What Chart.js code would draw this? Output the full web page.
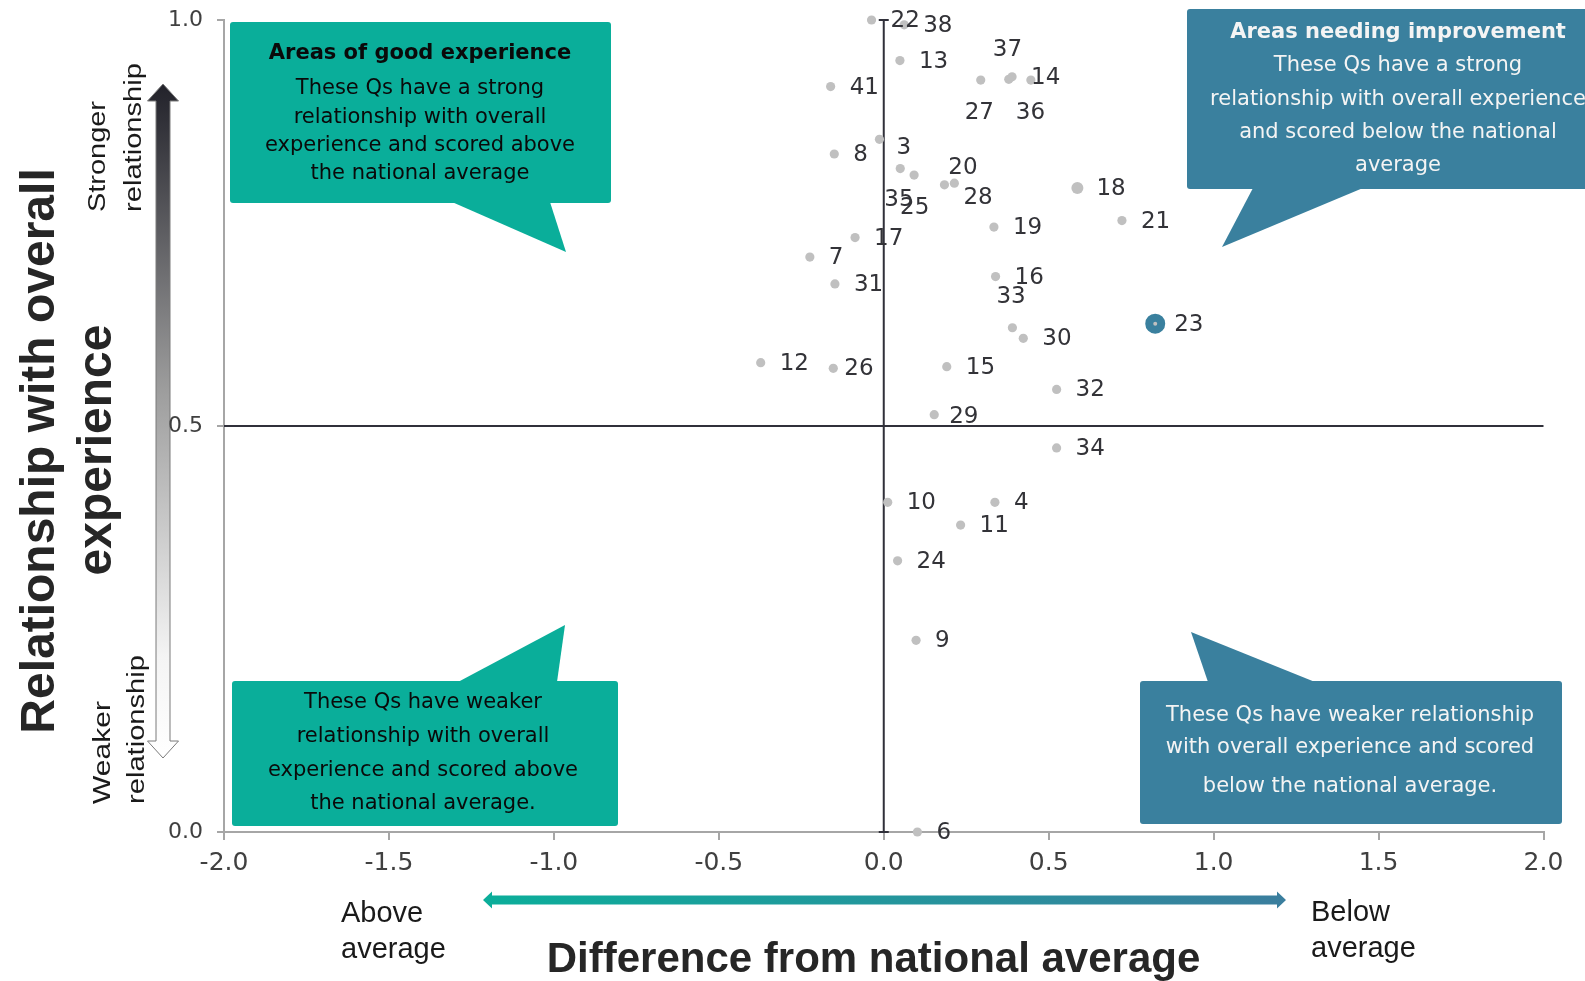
<!DOCTYPE html>
<html>
<head>
<meta charset="utf-8">
<title>Key drivers of overall experience</title>
<script src="https://cdn.jsdelivr.net/npm/chart.js@4.4.1/dist/chart.umd.min.js"></script>
<style>
  html, body { margin: 0; padding: 0; background: #ffffff; }
  #wrap { width: 1585px; height: 981px; position: relative; overflow: hidden; }
</style>
</head>
<body>
<div id="wrap"><canvas id="chart" width="1585" height="981"></canvas></div>
<script>
// Question numbers, difference from the national average (x) and
// strength of relationship with overall experience (y)
const questionIds = [3, 4, 6, 7, 8, 9, 10, 11, 12, 13, 14, 15, 16, 17, 18, 19, 20, 21,
                     22, 23, 24, 25, 26, 27, 28, 29, 30, 31, 32, 33, 34, 35, 36, 37, 38, 41];
const diffFromNational = [-0.013, 0.337, 0.102, -0.224, -0.150, 0.098, 0.012, 0.233, -0.373,
                          0.049, 0.389, 0.191, 0.339, -0.087, 0.587, 0.334, 0.214, 0.722,
                          -0.037, 0.823, 0.042, 0.092, -0.153, 0.294, 0.184, 0.153, 0.423,
                          -0.148, 0.524, 0.390, 0.524, 0.050, 0.446, 0.379, 0.062, -0.161];
const relationship = [0.853, 0.406, 0.000, 0.708, 0.835, 0.236, 0.406, 0.378, 0.578,
                      0.950, 0.930, 0.573, 0.684, 0.732, 0.793, 0.745, 0.799, 0.753,
                      1.000, 0.626, 0.334, 0.809, 0.571, 0.926, 0.797, 0.514, 0.608,
                      0.675, 0.545, 0.621, 0.473, 0.817, 0.926, 0.927, 0.994, 0.918];

const xTickValues = [-2.0, -1.5, -1.0, -0.5, 0.0, 0.5, 1.0, 1.5, 2.0];
const yTickValues = [0.0, 0.5, 1.0];

const xTitle = 'Difference from national average';
const yTitle = ['Relationship with overall', 'experience'];
const leftEnd = ['Above', 'average'];
const rightEnd = ['Below', 'average'];
const topEnd = ['Stronger', 'relationship'];
const bottomEnd = ['Weaker', 'relationship'];

const goodTitle = 'Areas of good experience';
const goodText = ['These Qs have a strong', 'relationship with overall',
                  'experience and scored above', 'the national average'];
const improveTitle = 'Areas needing improvement';
const improveText = ['These Qs have a strong', 'relationship with overall experience',
                     'and scored below the national', 'average'];
const weakAboveText = ['These Qs have weaker', 'relationship with overall',
                       'experience and scored above', 'the national average.'];
const weakBelowText = ['These Qs have weaker relationship', 'with overall experience and scored',
                       'below the national average.'];

// ---- styling ----
const TEAL = '#0AAE9A';
const BLUE = '#3A809E';
const DOT = '#C0C0C0';
const highlighted = [23];
const enlarged = [18];

// label placement: [dx, dy] from the point centre to the label's left/middle
const labelDefault = [19, 1];
const labelNudge = {3: [17, 9], 20: [-6, -15], 25: [-14, 33], 26: [11, 1], 27: [-16, 33],
                    28: [19, 13], 29: [15, 2], 33: [-16, -31], 35: [-16, 31], 36: [-15, 33],
                    37: [-16, -29]};

function drawText(ctx, text, x, y, o) {
  ctx.save();
  ctx.font = o.font;
  ctx.fillStyle = o.color;
  ctx.textAlign = o.align || 'left';
  ctx.textBaseline = 'middle';
  ctx.translate(x, y);
  if (o.rotate) ctx.rotate(o.rotate);
  if (o.width) {
    const w = ctx.measureText(text).width;
    ctx.scale(o.width / w, 1);
  }
  ctx.fillText(text, 0, 0);
  ctx.restore();
}

function drawCallout(ctx, c) {
  ctx.save();
  ctx.fillStyle = c.fill;
  ctx.beginPath();
  ctx.roundRect(c.l, c.t, c.r - c.l, c.b - c.t, 3);
  ctx.fill();
  ctx.beginPath();
  ctx.moveTo(c.ptr[0][0], c.ptr[0][1]);
  ctx.lineTo(c.ptr[1][0], c.ptr[1][1]);
  ctx.lineTo(c.ptr[2][0], c.ptr[2][1]);
  ctx.closePath();
  ctx.fill();
  ctx.restore();
  let i = 0;
  if (c.title) {
    drawText(ctx, c.title, c.cx, c.lines[0], {font: 'bold 21px "DejaVu Sans"', color: c.textColor, align: 'center'});
    i = 1;
  }
  c.text.forEach((line, k) => {
    drawText(ctx, line, c.cx, c.lines[i + k], {font: '21px "DejaVu Sans"', color: c.textColor, align: 'center'});
  });
}

const callouts = [
  {fill: TEAL, textColor: '#0a0a0a', l: 230, t: 22, r: 611, b: 203,
   ptr: [[452, 202], [566, 252], [550, 202]], cx: 420, title: goodTitle, text: goodText,
   lines: [54, 89, 117.5, 145.5, 173.5]},
  {fill: BLUE, textColor: '#f4f4f4', l: 1187, t: 9, r: 1610, b: 189,
   ptr: [[1253, 188], [1222, 247], [1363, 188]], cx: 1398, title: improveTitle, text: improveText,
   lines: [33, 66, 100, 133, 166]},
  {fill: TEAL, textColor: '#0a0a0a', l: 232, t: 681, r: 618, b: 826,
   ptr: [[458, 682], [565, 625], [557, 682]], cx: 423, title: null, text: weakAboveText,
   lines: [703, 737, 771, 804]},
  {fill: BLUE, textColor: '#f4f4f4', l: 1140, t: 681, r: 1562, b: 824,
   ptr: [[1208, 682], [1191, 632], [1315, 682]], cx: 1350, title: null, text: weakBelowText,
   lines: [716, 748, 787]}
];

// Frame decorations: axis titles, direction arrows and their end labels
const framePlugin = {
  id: 'frame',
  beforeDraw(chart) {
    const ctx = chart.ctx;
    const up = -Math.PI / 2;
    // vertical strength arrow
    const cx = 163, hw = 7, hh = 15.5;
    ctx.save();
    const g = ctx.createLinearGradient(0, 84, 0, 758);
    g.addColorStop(0, '#22222a');
    g.addColorStop(0.45, '#9c9c9c');
    g.addColorStop(0.85, '#f4f4f4');
    g.addColorStop(1, '#ffffff');
    ctx.fillStyle = g;
    ctx.strokeStyle = '#7a7a7a';
    ctx.lineWidth = 1;
    ctx.beginPath();
    ctx.moveTo(cx, 84);
    ctx.lineTo(cx + hh, 101); ctx.lineTo(cx + hw, 101);
    ctx.lineTo(cx + hw, 741); ctx.lineTo(cx + hh, 741);
    ctx.lineTo(cx, 758);
    ctx.lineTo(cx - hh, 741); ctx.lineTo(cx - hw, 741);
    ctx.lineTo(cx - hw, 101); ctx.lineTo(cx - hh, 101);
    ctx.closePath();
    ctx.fill();
    ctx.stroke();
    // horizontal difference arrow
    const y0 = 900, t = 4.5, h = 8.5, x1 = 483, x2 = 1286, hl = 9;
    const g2 = ctx.createLinearGradient(x1, 0, x2, 0);
    g2.addColorStop(0, '#0BAE9A');
    g2.addColorStop(1, '#3B7E9E');
    ctx.fillStyle = g2;
    ctx.beginPath();
    ctx.moveTo(x1, y0);
    ctx.lineTo(x1 + hl, y0 - h); ctx.lineTo(x1 + hl, y0 - t);
    ctx.lineTo(x2 - hl, y0 - t); ctx.lineTo(x2 - hl, y0 - h);
    ctx.lineTo(x2, y0);
    ctx.lineTo(x2 - hl, y0 + h); ctx.lineTo(x2 - hl, y0 + t);
    ctx.lineTo(x1 + hl, y0 + t); ctx.lineTo(x1 + hl, y0 + h);
    ctx.closePath();
    ctx.fill();
    ctx.restore();

    const titleFont = 'bold 48px "Liberation Sans"';
    drawText(ctx, yTitle[0], 41, 451, {font: titleFont, color: '#262626', align: 'center', rotate: up});
    drawText(ctx, yTitle[1], 98, 450, {font: titleFont, color: '#262626', align: 'center', rotate: up});
    const sideFont = '23px "Liberation Sans"';
    drawText(ctx, topEnd[0], 99, 212, {font: sideFont, color: '#1a1a1a', rotate: up, width: 111});
    drawText(ctx, topEnd[1], 134.5, 212, {font: sideFont, color: '#1a1a1a', rotate: up, width: 149});
    drawText(ctx, bottomEnd[0], 104, 804, {font: sideFont, color: '#1a1a1a', rotate: up, width: 103});
    drawText(ctx, bottomEnd[1], 137.5, 804, {font: sideFont, color: '#1a1a1a', rotate: up, width: 149});

    const endFont = '29px "Liberation Sans"';
    drawText(ctx, leftEnd[0], 341, 914, {font: endFont, color: '#1a1a1a'});
    drawText(ctx, leftEnd[1], 341, 950, {font: endFont, color: '#1a1a1a'});
    drawText(ctx, rightEnd[0], 1311, 913, {font: endFont, color: '#1a1a1a'});
    drawText(ctx, rightEnd[1], 1311, 949, {font: endFont, color: '#1a1a1a'});

    drawText(ctx, xTitle, 873.5, 960, {font: 'bold 42px "Liberation Sans"', color: '#262626', align: 'center'});
  }
};

// Quadrant dividers and callout boxes
const quadrantPlugin = {
  id: 'quadrants',
  beforeDatasetsDraw(chart) {
    const {ctx, scales: {x, y}} = chart;
    const x0 = x.getPixelForValue(0);
    const yMid = y.getPixelForValue(0.5);
    ctx.save();
    ctx.strokeStyle = '#30303a';
    ctx.lineWidth = 2;
    ctx.beginPath();
    ctx.moveTo(x.left, yMid); ctx.lineTo(x.right, yMid);
    ctx.moveTo(x0, y.getPixelForValue(1)); ctx.lineTo(x0, y.getPixelForValue(0));
    yTickValues.forEach(v => {
      const py = y.getPixelForValue(v);
      ctx.moveTo(x0 - 5, py); ctx.lineTo(x0 + 5, py);
    });
    ctx.stroke();
    ctx.restore();
    callouts.forEach(c => drawCallout(ctx, c));
  },
  afterDatasetsDraw(chart) {
    const ctx = chart.ctx;
    const meta = chart.getDatasetMeta(0);
    meta.data.forEach((pt, i) => {
      const id = questionIds[i];
      const off = labelNudge[id] || labelDefault;
      drawText(ctx, String(id), pt.x + off[0], pt.y + off[1],
               {font: '23px "DejaVu Sans"', color: '#333338'});
    });
  }
};

new Chart(document.getElementById('chart'), {
  type: 'scatter',
  data: {
    datasets: [{
      label: 'Questions',
      data: questionIds.map((id, i) => ({x: diffFromNational[i], y: relationship[i]})),
      clip: false,
      backgroundColor: DOT,
      borderColor: ctx => highlighted.includes(questionIds[ctx.dataIndex]) ? BLUE : DOT,
      borderWidth: ctx => highlighted.includes(questionIds[ctx.dataIndex]) ? 8 : 0,
      pointRadius: ctx => {
        const id = questionIds[ctx.dataIndex];
        if (highlighted.includes(id)) return 6;
        if (enlarged.includes(id)) return 6;
        return 4.6;
      }
    }]
  },
  options: {
    responsive: false,
    animation: false,
    events: [],
    devicePixelRatio: 1,
    layout: {padding: {top: 20, right: 41.5, bottom: 0, left: 0}},
    plugins: {legend: {display: false}, tooltip: {enabled: false}},
    scales: {
      x: {
        type: 'linear', position: 'bottom', min: -2, max: 2,
        afterBuildTicks: s => { s.ticks = xTickValues.map(v => ({value: v})); },
        afterFit: s => { s.height = 149; },
        ticks: {
          callback: v => Number(v).toFixed(1),
          font: {family: 'DejaVu Sans', size: 25}, color: '#404040',
          padding: 8, maxRotation: 0, autoSkip: false
        },
        grid: {drawOnChartArea: false, drawTicks: true, tickLength: 8, color: '#A6A6A6', lineWidth: 2},
        border: {display: true, color: '#A6A6A6', width: 2}
      },
      y: {
        type: 'linear', position: 'left', min: 0, max: 1,
        afterBuildTicks: s => { s.ticks = yTickValues.map(v => ({value: v})); },
        afterFit: s => { s.width = 224; s.paddingTop = 0; s.paddingBottom = 0; },
        ticks: {
          callback: v => Number(v).toFixed(1),
          font: {family: 'DejaVu Sans', size: 22}, color: '#404040',
          padding: 14, autoSkip: false
        },
        grid: {drawOnChartArea: false, drawTicks: true, tickLength: 7, color: '#A6A6A6', lineWidth: 2},
        border: {display: true, color: '#A6A6A6', width: 2}
      }
    }
  },
  plugins: [framePlugin, quadrantPlugin]
});
</script>
</body>
</html>
